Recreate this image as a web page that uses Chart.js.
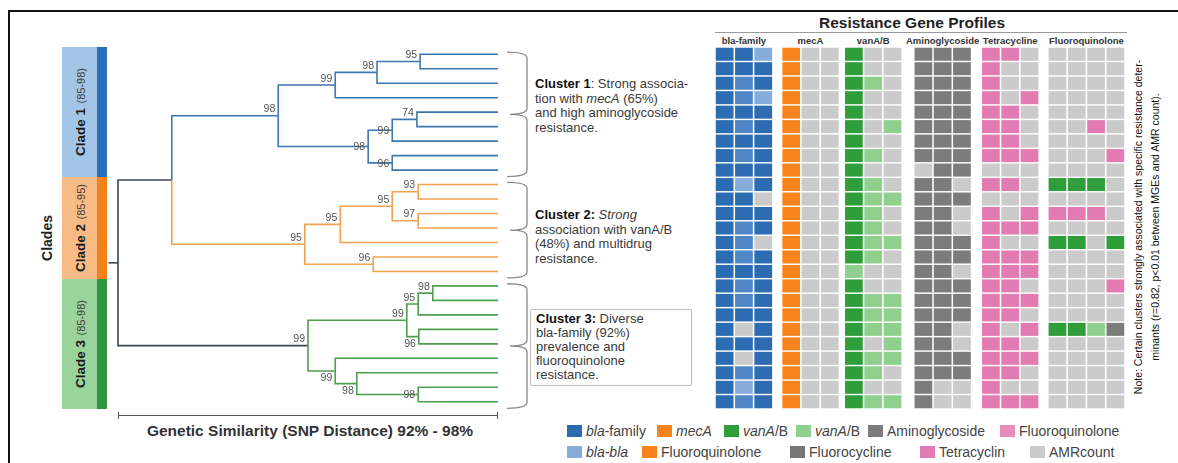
<!DOCTYPE html>
<html>
<head>
<meta charset="utf-8">
<title>Clade phylogeny and resistance gene profiles</title>
<script src="https://cdn.jsdelivr.net/npm/chart.js@4.4.1/dist/chart.umd.min.js"></script>
<style>
  html, body { margin: 0; padding: 0; background: #fff; }
  #fig { position: relative; width: 1178px; height: 463px; overflow: hidden;
         font-family: "Liberation Sans", Arial, Helvetica, sans-serif; color: #333; }
  .abs { position: absolute; }
  canvas { position: absolute; }
  .rule { position: absolute; background: #111; }
  .rot { position: absolute; left: 50%; top: 50%; white-space: nowrap;
         transform: translate(-50%, -50%) rotate(-90deg); }
  .clade { position: absolute; left: 62px; width: 35px; border-right: 10px solid; }
  .clade b { font-size: 13.5px; color: #1c1c1c; }
  .clade span.rng { font-size: 11px; color: #3a3a3a; }
  .cluster { position: absolute; font-size: 13px; line-height: 14.5px; color: #3a3a3a; white-space: nowrap; }
  .cluster b { color: #111; }
  .grp { position: absolute; top: 35px; font-size: 9.5px; font-weight: bold; color: #333;
         transform: translateX(-50%); white-space: nowrap; }
  .leg { position: absolute; font-size: 14px; line-height: 14px; color: #444; white-space: nowrap;
         display: flex; align-items: center; }
  .leg i.sw { display: inline-block; width: 15px; height: 12px; margin-right: 4px; }
</style>
</head>
<body>
<div id="fig">
  <div class="rule" style="left:8px; top:10px; width:1170px; height:2px;"></div>
  <div class="rule" style="left:8px; top:10px; width:2px; height:453px;"></div>

  <div class="abs" style="left:30px; top:226px; width:34px; height:24px;">
    <div class="rot" style="font-weight:bold; font-size:14px; color:#222;">Clades</div>
  </div>

  <div class="abs" style="left:762px; top:14px; width:300px; text-align:center; font-weight:bold; font-size:15.5px; color:#222;">Resistance Gene Profiles</div>
  <div class="abs" style="left:715px; top:32px; width:412px; height:1px; background:#9a9a9a;"></div>

  <div class="cluster" style="left:535px; top:77px;"><b>Cluster 1</b>: Strong associa-<br>tion with <i>mecA</i> (65%)<br>and high aminoglycoside<br>resistance.</div>
  <div class="cluster" style="left:535px; top:208px;"><b>Cluster 2:</b> <i>Strong</i><br>association with vanA/B<br>(48%) and multidrug<br>resistance.</div>
  <div class="abs" style="left:530px; top:309px; width:160px; height:75px; border:1px solid #bdbdbd; border-radius:2px;"></div>
  <div class="cluster" style="left:536px; top:312px; line-height:14px;"><b>Cluster 3:</b> Diverse<br>bla-family (92%)<br>prevalence and<br>fluoroquinolone<br>resistance.</div>

  <div class="abs" style="left:90px; top:422px; width:440px; text-align:center; font-weight:bold; font-size:15.5px; color:#333;">Genetic Similarity (SNP Distance) 92% - 98%</div>

  <div class="abs" style="left:952px; top:210px; width:390px; height:34px;">
    <div class="rot" style="font-size:10.5px; line-height:17px; color:#111; text-align:center;">Note: Certain clusters strongly associated with specific resistance deter-<br>minants (r=0.82, p&lt;0.01 between MGEs and AMR count).</div>
  </div>

  <canvas id="tree" width="432" height="385" style="left:100px; top:40px;"></canvas>
  <canvas id="heat" width="410" height="362" style="left:715px; top:47px;"></canvas>
</div>

<script>
// ---------------------------------------------------------------
// Isolates (top to bottom) and the clade each one belongs to
const isolates = ['S01','S02','S03','S04','S05','S06','S07','S08','S09',
                  'S10','S11','S12','S13','S14','S15','S16',
                  'S17','S18','S19','S20','S21','S22','S23','S24','S25'];
const cladeOfIsolate = [1,1,1,1,1,1,1,1,1, 2,2,2,2,2,2,2, 3,3,3,3,3,3,3,3,3];
const cladeNames  = ['Clade 1', 'Clade 2', 'Clade 3'];
const cladeRanges = ['(85-98)', '(85-95)', '(85-98)'];

// Internal tree nodes: [id, similarity %, bootstrap, child A, child B]
// (numbers refer to isolate rows, strings to other nodes)
const treeNodes = [
  ['c1n1', 96.77, 95, 0, 1],
  ['c1n2', 96.09, 98, 'c1n1', 2],
  ['c1n3', 95.43, 99, 'c1n2', 3],
  ['c1n4', 96.72, 74, 4, 5],
  ['c1n5', 96.33, 99, 'c1n4', 6],
  ['c1n6', 96.33, 96, 7, 8],
  ['c1n7', 95.95, 98, 'c1n5', 'c1n6'],
  ['c1',   94.53, 98, 'c1n3', 'c1n7'],
  ['c2n1', 96.74, 93, 9, 10],
  ['c2n2', 96.74, 97, 11, 12],
  ['c2n3', 96.33, 95, 'c2n1', 'c2n2'],
  ['c2n4', 95.51, 95, 'c2n3', 13],
  ['c2n5', 96.03, 96, 14, 15],
  ['c2',   94.95, 95, 'c2n4', 'c2n5'],
  ['c3n1', 96.97, 98, 16, 17],
  ['c3n2', 96.74, 95, 'c3n1', 18],
  ['c3n3', 96.75, 96, 19, 20],
  ['c3n4', 96.56, 99, 'c3n2', 'c3n3'],
  ['c3n5', 96.74, 98, 23, 24],
  ['c3n6', 95.77, 98, 22, 'c3n5'],
  ['c3n7', 95.43, 99, 21, 'c3n6'],
  ['c3',   95.00, 99, 'c3n4', 'c3n7'],
  ['c12',  92.85, null, 'c1', 'c2'],
  ['root', 92.00, null, 'c12', 'c3']
];
const simRange = [92, 98];   // root .. tips

// Resistance gene calls per isolate, one letter per sub-column
// B/b/l = bla variants, O = mecA, G/g = vanA/B, A = aminoglycoside,
// P = tetracycline / fluoroquinolone hit, - = absent
const blaFamily = ['BBl','BBB','BbB','Bbl','BBB','BbB','BBB','BbB','BBB','BlB','BB-','BBB','BbB',
                   'Bb-','BbB','BBB','BbB','BbB','BBB','B-B','BBB','B-B','BbB','BlB','BbB'];
const mecA      = ['O--','O--','O--','O--','O--','O--','O--','O--','O--','O--','O--','O--','O--',
                   'O--','O--','O--','O--','O--','O--','O--','O--','O--','O--','O--','O--'];
const vanAB     = ['G--','G--','Gg-','G--','G--','G-g','G--','Gg-','G--','Gg-','Ggg','Gg-','Gg-',
                   'Ggg','Gg-','g--','G--','Ggg','Ggg','Ggg','G-g','Ggg','Gg-','G--','Ggg'];
const aminoglycoside = ['AAA','AAA','AAA','AAA','AAA','AAA','AAA','AAA','-AA','AA-','AAA','AA-','AA-',
                        'AAA','AAA','AA-','AAA','AAA','AAA','AA-','AA-','AAA','AAA','A--','A--'];
const tetracycline   = ['PP-','P--','P--','P-P','PP-','PP-','PP-','PPP','---','PP-','---','P-P','PPP',
                        'P--','PPP','PPP','PP-','PPP','PP-','P-P','PP-','PPP','PP-','P--','PPP'];
const fluoroquinolone = ['----','----','----','----','----','--P-','----','---P','----','GGG-','----','PPP-','----',
                         'GG-G','----','----','---P','----','----','GGgA','----','----','----','----','----'];
const geneGroupTitles = ['bla-family', 'mecA', 'vanA/B', 'Aminoglycoside', 'Tetracycline', 'Fluoroquinolone'];

// Legend entries: [label, colour key]
const legendRow1 = [['<i>bla</i>-family','B'], ['<i>mecA</i>','O'], ['<i>vanA</i>/B','G'],
                    ['<i>vanA</i>/B','g'], ['Aminoglycoside','A'], ['Fluoroquinolone','p']];
const legendRow2 = [['<i>bla-bla</i>','l'], ['Fluoroquinolone','O'], ['Fluorocycline','a'],
                    ['Tetracyclin','P'], ['AMRcount','-']];

// ---------------------------------------------------------------
// Styling
const cellColours = {
  'B': '#2b6cb2', 'b': '#4e86c6', 'l': '#86acdb', 'O': '#f7831d',
  'G': '#2f9d3a', 'g': '#8fd08f', 'A': '#7c7c7c', 'a': '#767676',
  'P': '#e27bb1', 'p': '#e68dbc', '-': '#cbcbcb'
};
const cladeFill  = ['#a3c6e7', '#f9bb85', '#9ad39b'];
const cladeEdge  = ['#2572b9', '#f6801b', '#2f983e'];
const branchCol  = {1: '#3f77b0', 2: '#f0a152', 3: '#4d9f4d', root: '#3b4550'};

const rowsTop = 47, rowsBottom = 409;
const rowPitch = (rowsBottom - rowsTop) / isolates.length;
const fig = document.getElementById('fig');

// ---------------------------------------------------------------
// Clade side bars
cladeNames.forEach((name, k) => {
  const first = cladeOfIsolate.indexOf(k + 1);
  const last = cladeOfIsolate.lastIndexOf(k + 1);
  const d = document.createElement('div');
  d.className = 'clade';
  d.style.top = (rowsTop + first * rowPitch) + 'px';
  d.style.height = ((last - first + 1) * rowPitch) + 'px';
  d.style.background = cladeFill[k];
  d.style.borderRightColor = cladeEdge[k];
  d.innerHTML = '<div class="rot"><b>' + name + '</b> <span class="rng">' + cladeRanges[k] + '</span></div>';
  fig.appendChild(d);
});

// ---------------------------------------------------------------
// Dendrogram
const nodeMap = {};
treeNodes.forEach(([id, sim, boot, a, b]) => { nodeMap[id] = {id, sim, boot, kids: [a, b]}; });
const isLeaf = k => typeof k === 'number';
const nodeY = k => isLeaf(k) ? k : (nodeY(nodeMap[k].kids[0]) + nodeY(nodeMap[k].kids[1])) / 2;
const nodeX = k => isLeaf(k) ? simRange[1] : nodeMap[k].sim;
const cladeOf = k => isLeaf(k) ? cladeOfIsolate[k] : cladeOf(nodeMap[k].kids[0]);

const treeSets = [];
treeNodes.forEach(([id]) => {
  const px = nodeX(id), py = nodeY(id);
  nodeMap[id].kids.forEach(kid => {
    treeSets.push({
      data: [{x: px, y: py}, {x: px, y: nodeY(kid)}, {x: nodeX(kid), y: nodeY(kid)}],
      borderColor: id === 'root' ? branchCol.root : branchCol[cladeOf(kid)]
    });
  });
});
// short stem leading into the root
treeSets.push({
  data: [{x: simRange[0] - 0.15, y: nodeY('root')}, {x: simRange[0], y: nodeY('root')}],
  borderColor: branchCol.root
});
treeSets.forEach(s => Object.assign(s, {showLine: true, borderWidth: 1.6, pointRadius: 0,
                                        tension: 0, clip: false, fill: false}));

const labelPlace = {c1n5: 'mid', c1n6: 'mid', c1n7: 'mid', c3n5: 'mid',
                    c3n3: 'below', c3n6: 'below', c3n7: 'below'};

const treeDecor = {
  id: 'treeDecor',
  afterDatasetsDraw(chart) {
    const {ctx, scales: {x, y}, chartArea} = chart;
    ctx.save();
    // bootstrap support values
    ctx.font = '10.5px "Liberation Sans", Arial, sans-serif';
    ctx.fillStyle = '#555';
    ctx.textAlign = 'right';
    treeNodes.forEach(([id, sim, boot]) => {
      if (boot === null) return;
      const px = x.getPixelForValue(sim) - 3;
      const py = y.getPixelForValue(nodeY(id));
      const place = labelPlace[id] || 'above';
      if (place === 'above') { ctx.textBaseline = 'bottom'; ctx.fillText(boot, px, py - 1); }
      else if (place === 'below') { ctx.textBaseline = 'top'; ctx.fillText(boot, px, py + 2); }
      else { ctx.textBaseline = 'middle'; ctx.fillText(boot, px, py + 1); }
    });
    // cluster braces
    ctx.strokeStyle = '#8a8a8a';
    ctx.lineWidth = 1.3;
    const tipEnd = x.getPixelForValue(simRange[1]);
    const xTip = tipEnd + 9, xSpine = tipEnd + 29;
    [1, 2, 3].forEach(c => {
      const yTop = y.getPixelForValue(cladeOfIsolate.indexOf(c) - 0.15);
      const yBot = y.getPixelForValue(cladeOfIsolate.lastIndexOf(c) + 0.45);
      const yMid = (yTop + yBot) / 2, r = 6;
      ctx.beginPath();
      ctx.moveTo(xTip, yTop);
      ctx.quadraticCurveTo(xSpine, yTop, xSpine, yTop + r);
      ctx.lineTo(xSpine, yMid - r);
      ctx.quadraticCurveTo(xSpine, yMid, xTip + 3, yMid);
      ctx.quadraticCurveTo(xSpine, yMid, xSpine, yMid + r);
      ctx.lineTo(xSpine, yBot - r);
      ctx.quadraticCurveTo(xSpine, yBot, xTip, yBot);
      ctx.stroke();
    });
    // similarity axis
    const ax = chartArea.bottom - 10;
    const x0 = x.getPixelForValue(simRange[0]), x1 = x.getPixelForValue(simRange[1]);
    ctx.strokeStyle = '#555';
    ctx.lineWidth = 1;
    ctx.beginPath();
    ctx.moveTo(x0, ax + 0.5); ctx.lineTo(x1, ax + 0.5);
    ctx.moveTo(x0 + 0.5, ax - 3); ctx.lineTo(x0 + 0.5, ax + 4);
    ctx.moveTo(x1 - 0.5, ax - 3); ctx.lineTo(x1 - 0.5, ax + 4);
    ctx.stroke();
    ctx.restore();
  }
};

// page geometry of the tree canvas
const treeLeft = 100, treeTop = 40, treeW = 432, treeH = 385;
const simPx = (498 - 118) / (simRange[1] - simRange[0]);
const xMin = simRange[0] - (118 - treeLeft) / simPx;
const yMin = -0.5 - (rowsTop - treeTop) / rowPitch;

new Chart(document.getElementById('tree'), {
  type: 'scatter',
  data: {datasets: treeSets},
  options: {
    responsive: false, animation: false, events: [],
    layout: {padding: 0},
    plugins: {legend: {display: false}, tooltip: {enabled: false}},
    scales: {
      x: {type: 'linear', display: false, min: xMin, max: xMin + treeW / simPx},
      y: {type: 'linear', display: false, reverse: true, min: yMin, max: yMin + treeH / rowPitch}
    }
  },
  plugins: [treeDecor]
});

// ---------------------------------------------------------------
// Resistance heatmap
const geneGroups = [blaFamily, mecA, vanAB, aminoglycoside, tetracycline, fluoroquinolone];
const groupGap = [0.45, 0.25, 0.6, 0.5, 0.45];
const groupStart = [];
let cursor = 0;
geneGroups.forEach((g, i) => {
  groupStart.push(cursor);
  cursor += g[0].length + (i < groupGap.length ? groupGap[i] : 0);
});
const totalUnits = cursor;

const heatSets = [];
geneGroups.forEach((g, gi) => {
  for (let c = 0; c < g[0].length; c++) {
    const x0 = groupStart[gi] + c;
    heatSets.push({
      data: g.map(() => [x0 + 0.04, x0 + 0.96]),
      backgroundColor: g.map(row => cellColours[row[c]]),
      borderWidth: 0, borderSkipped: false, grouped: false,
      barPercentage: 0.9, categoryPercentage: 1
    });
  }
});

new Chart(document.getElementById('heat'), {
  type: 'bar',
  data: {labels: isolates, datasets: heatSets},
  options: {
    indexAxis: 'y', responsive: false, animation: false, events: [],
    layout: {padding: 0},
    plugins: {legend: {display: false}, tooltip: {enabled: false}},
    scales: {
      x: {type: 'linear', display: false, min: 0, max: totalUnits},
      y: {type: 'category', display: false}
    }
  }
});

// group headings above the heatmap
const heatLeft = 715, heatW = 410;
geneGroups.forEach((g, gi) => {
  const d = document.createElement('div');
  d.className = 'grp';
  d.style.left = (heatLeft + (groupStart[gi] + g[0].length / 2) * heatW / totalUnits) + 'px';
  d.textContent = geneGroupTitles[gi];
  fig.appendChild(d);
});

// ---------------------------------------------------------------
// Legend
const legendLayout = [{top: 424, lefts: [567, 657, 724, 796, 868, 1000]},
                      {top: 445, lefts: [567, 642, 790, 920, 1030]}];
[legendRow1, legendRow2].forEach((row, r) => {
  row.forEach(([label, key], i) => {
    const d = document.createElement('div');
    d.className = 'leg';
    d.style.left = legendLayout[r].lefts[i] + 'px';
    d.style.top = legendLayout[r].top + 'px';
    d.innerHTML = '<i class="sw" style="background:' + cellColours[key] + '"></i><span>' + label + '</span>';
    fig.appendChild(d);
  });
});
</script>
</body>
</html>
